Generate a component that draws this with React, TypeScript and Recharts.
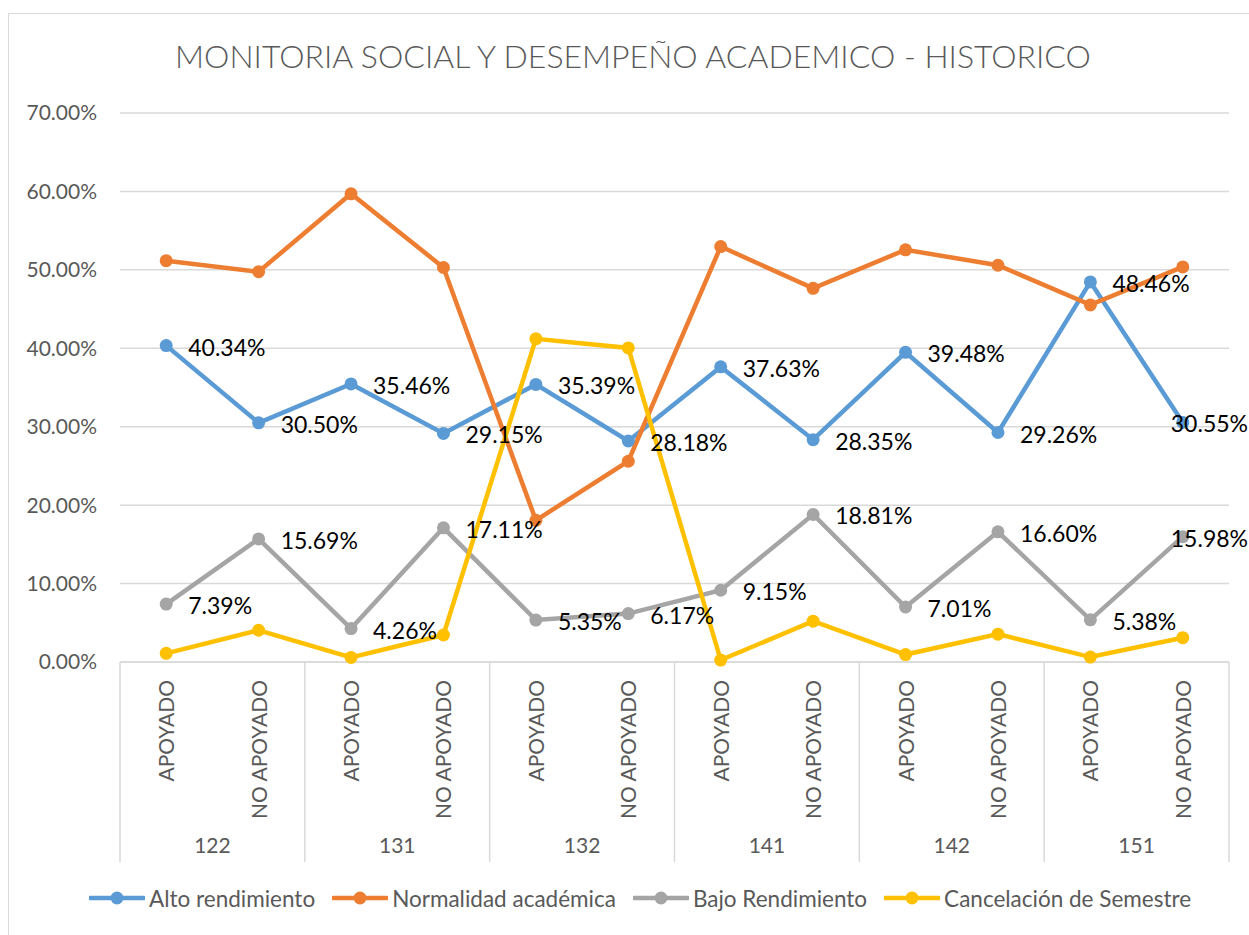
import React from 'react';
import { LineChart, Line, XAxis, YAxis, CartesianGrid, LabelList, Legend } from 'recharts';

// periodos y condición de cada punto
const groups = ['122', '131', '132', '141', '142', '151'];
const statuses = ['APOYADO', 'NO APOYADO'];

// porcentajes por serie (en %)
const alto = [40.34, 30.5, 35.46, 29.15, 35.39, 28.18, 37.63, 28.35, 39.48, 29.26, 48.46, 30.55];
const normalidad = [51.17, 49.76, 59.7, 50.3, 18.06, 25.6, 52.97, 47.64, 52.56, 50.59, 45.53, 50.37];
const bajo = [7.39, 15.69, 4.26, 17.11, 5.35, 6.17, 9.15, 18.81, 7.01, 16.6, 5.38, 15.98];
const cancelacion = [1.1, 4.05, 0.58, 3.44, 41.2, 40.05, 0.25, 5.2, 0.95, 3.55, 0.63, 3.1];

const yTicks = [0, 10, 20, 30, 40, 50, 60, 70];

const COLORS = {
  alto: '#5B9BD5',
  normalidad: '#ED7D31',
  bajo: '#A5A5A5',
  cancelacion: '#FFC000',
};

const FONT = 'Lato, "Open Sans", sans-serif';
const AXIS_GREY = '#595959';
const GRID = '#d9d9d9';

const data = alto.map((v, i) => ({
  pos: i + 0.5,
  group: groups[Math.floor(i / statuses.length)],
  status: statuses[i % statuses.length],
  alto: v,
  normalidad: normalidad[i],
  bajo: bajo[i],
  cancelacion: cancelacion[i],
}));

const series = [
  { key: 'alto', name: 'Alto rendimiento', color: COLORS.alto },
  { key: 'normalidad', name: 'Normalidad académica', color: COLORS.normalidad },
  { key: 'bajo', name: 'Bajo Rendimiento', color: COLORS.bajo },
  { key: 'cancelacion', name: 'Cancelación de Semestre', color: COLORS.cancelacion },
];

// ticks cada media categoria: bordes de grupo, centros de punto, centros de grupo
const xTicks = Array.from({ length: data.length * 2 + 1 }, (_, k) => k / 2);

const XTick = ({ x, y, payload }: any) => {
  const k = Math.round(payload.value * 2);
  if (k % 4 === 0) {
    return <line x1={x} y1={y} x2={x} y2={y + 200} stroke={GRID} strokeWidth={1.5} />;
  }
  if (k % 2 === 1) {
    const row = data[(k - 1) / 2];
    const tx = x + 8;
    const ty = y + 18;
    return (
      <text
        x={tx}
        y={ty}
        transform={`rotate(-90, ${tx}, ${ty})`}
        textAnchor="end"
        fontFamily={FONT}
        fontSize={21}
        fill={AXIS_GREY}
      >
        {row.status}
      </text>
    );
  }
  const g = groups[(k - 2) / 4];
  return (
    <text x={x} y={y + 191} textAnchor="middle" fontFamily={FONT} fontSize={21} fill={AXIS_GREY}>
      {g}
    </text>
  );
};

const PointLabel = (props: any) => {
  const { x, y, value, index } = props;
  const last = index === data.length - 1;
  return (
    <text
      x={last ? x - 12 : x + 22}
      y={y + 1}
      dominantBaseline="central"
      fontFamily={FONT}
      fontSize={23}
      fill="#000"
    >
      {`${Number(value).toFixed(2)}%`}
    </text>
  );
};

const LegendContent = () => (
  <div style={{ display: 'flex', alignItems: 'center', height: 36, whiteSpace: 'nowrap' }}>
    {series.map((s) => (
      <div key={s.key} style={{ display: 'flex', alignItems: 'center', marginRight: 17 }}>
        <svg width={56} height={16}>
          <line x1={1} y1={8} x2={55} y2={8} stroke={s.color} strokeWidth={4.5} strokeLinecap="round" />
          <circle cx={28} cy={8} r={6.5} fill={s.color} />
        </svg>
        <span style={{ marginLeft: 4, fontFamily: FONT, fontSize: 22.5, color: AXIS_GREY }}>{s.name}</span>
      </div>
    ))}
  </div>
);

const App: React.FC = () => {
  return (
    <div style={{ position: 'absolute', left: 0, top: 0, width: 1249, height: 935, background: '#fff', overflow: 'hidden' }}>
      <div
        style={{
          position: 'absolute',
          left: 8,
          top: 13,
          width: 1300,
          height: 1000,
          border: `1.5px solid ${GRID}`,
        }}
      />
      <div
        style={{
          position: 'absolute',
          left: 0,
          top: 40,
          width: 1266,
          textAlign: 'center',
          fontFamily: FONT,
          fontWeight: 300,
          fontSize: 32,
          lineHeight: 1,
          color: AXIS_GREY,
        }}
      >
        MONITORIA SOCIAL Y DESEMPEÑO ACADEMICO - HISTORICO
      </div>
      <div style={{ position: 'absolute', left: 0, top: 0 }}>
        <LineChart width={1249} height={935} data={data} margin={{ top: 113, right: 20, bottom: 73, left: 20 }}>
          <CartesianGrid vertical={false} stroke={GRID} strokeWidth={1.5} />
          <XAxis
            type="number"
            dataKey="pos"
            domain={[0, data.length]}
            ticks={xTicks}
            interval={0}
            height={200}
            tickSize={0}
            tickMargin={0}
            tickLine={false}
            axisLine={{ stroke: GRID, strokeWidth: 1.5 }}
            tick={<XTick />}
          />
          <YAxis
            width={100}
            domain={[0, 70]}
            ticks={yTicks}
            interval={0}
            tickSize={0}
            tickMargin={23}
            axisLine={false}
            tickLine={false}
            tickFormatter={(v: number) => `${v.toFixed(2)}%`}
            tick={{ fill: AXIS_GREY, fontSize: 21, fontFamily: FONT }}
          />
          {series.map((s) => (
            <Line
              key={s.key}
              type="linear"
              dataKey={s.key}
              name={s.name}
              stroke={s.color}
              strokeWidth={4.5}
              dot={{ r: 6.5, fill: s.color, stroke: s.color, strokeWidth: 0 }}
              activeDot={false}
              isAnimationActive={false}
            />
          ))}
          {/* etiquetas encima de todas las líneas */}
          {['alto', 'bajo'].map((k) => (
            <Line
              key={`lbl-${k}`}
              dataKey={k}
              stroke="none"
              dot={false}
              activeDot={false}
              legendType="none"
              isAnimationActive={false}
            >
              <LabelList dataKey={k} content={<PointLabel />} />
            </Line>
          ))}
          <Legend
            layout="horizontal"
            verticalAlign="middle"
            align="center"
            content={<LegendContent />}
            wrapperStyle={{ top: 880, left: 89, width: 1150, height: 36 }}
          />
        </LineChart>
      </div>
    </div>
  );
};

export default App;
